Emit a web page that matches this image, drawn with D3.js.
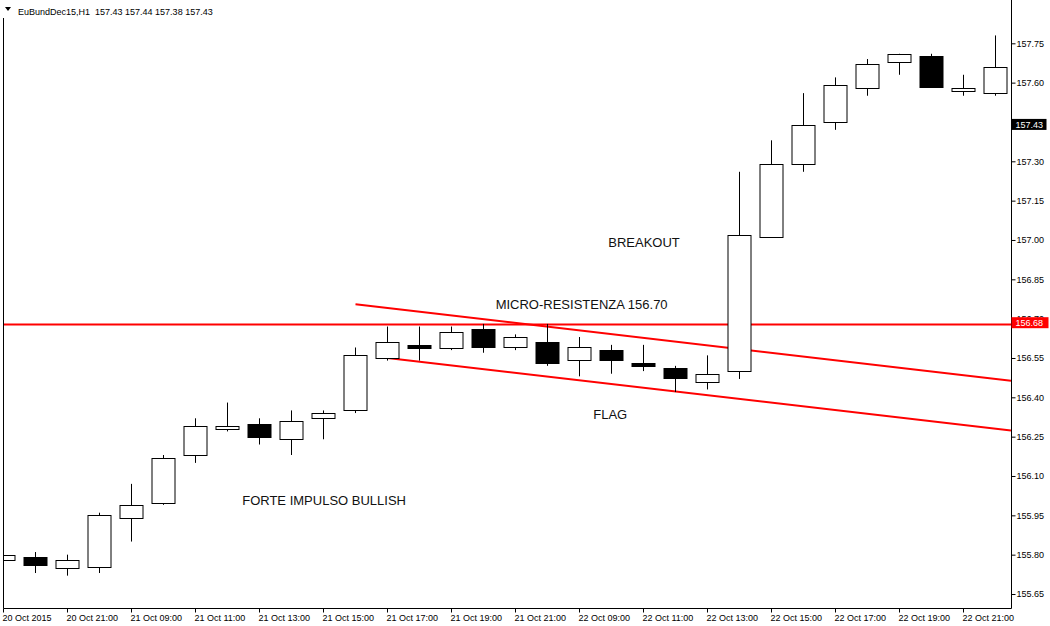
<!DOCTYPE html>
<html lang="it">
<head>
    <title>EuBundDec15,H1</title>
    <script src="https://d3js.org/d3.v7.min.js" charset="utf-8"></script>
    <style type="text/css">
        body
        {
            margin: 0;
            background-color: white;
        }
        svg
        {
            display: block;
            background-color: white;
            font-family: "Liberation Sans", Arial, sans-serif;
        }
        .axis text
        {
            font-size: 9px;
            fill: black;
        }
        .axis line
        {
            stroke: black;
        }
        .note
        {
            font-size: 13px;
            fill: #111;
        }
    </style>
</head>
<body>
    <div id="chart_div"></div>
    <script>
    "use strict";

    var symbol_text = "EuBundDec15,H1  157.43 157.44 157.38 157.43";

    var times = ["20 Oct 19:00", "20 Oct 20:00", "20 Oct 21:00", "21 Oct 08:00", "21 Oct 09:00", "21 Oct 10:00",
        "21 Oct 11:00", "21 Oct 12:00", "21 Oct 13:00", "21 Oct 14:00", "21 Oct 15:00", "21 Oct 16:00",
        "21 Oct 17:00", "21 Oct 18:00", "21 Oct 19:00", "21 Oct 20:00", "21 Oct 21:00", "22 Oct 08:00",
        "22 Oct 09:00", "22 Oct 10:00", "22 Oct 11:00", "22 Oct 12:00", "22 Oct 13:00", "22 Oct 14:00",
        "22 Oct 15:00", "22 Oct 16:00", "22 Oct 17:00", "22 Oct 18:00", "22 Oct 19:00", "22 Oct 20:00",
        "22 Oct 21:00", "22 Oct 22:00"];

    var open = [155.78, 155.79, 155.75, 155.75, 155.94, 156.00, 156.18, 156.28, 156.30, 156.24, 156.32,
        156.35, 156.55, 156.60, 156.59, 156.66, 156.59, 156.61, 156.54, 156.58, 156.53, 156.51, 156.46,
        156.50, 157.01, 157.29, 157.45, 157.58, 157.68, 157.70, 157.57, 157.56];
    var high = [155.81, 155.81, 155.80, 155.96, 156.07, 156.18, 156.32, 156.38, 156.32, 156.35, 156.35,
        156.59, 156.67, 156.67, 156.67, 156.68, 156.64, 156.68, 156.63, 156.60, 156.60, 156.52, 156.56,
        157.26, 157.38, 157.56, 157.62, 157.69, 157.71, 157.71, 157.63, 157.78];
    var low = [155.74, 155.73, 155.72, 155.73, 155.85, 155.99, 156.15, 156.27, 156.22, 156.18, 156.24,
        156.34, 156.54, 156.54, 156.58, 156.57, 156.58, 156.52, 156.48, 156.49, 156.50, 156.42, 156.43,
        156.47, 157.01, 157.26, 157.42, 157.55, 157.63, 157.58, 157.55, 157.55];
    var close = [155.80, 155.76, 155.78, 155.95, 155.99, 156.17, 156.29, 156.29, 156.25, 156.31, 156.34,
        156.56, 156.61, 156.59, 156.65, 156.59, 156.63, 156.53, 156.59, 156.54, 156.52, 156.47, 156.49,
        157.02, 157.29, 157.44, 157.59, 157.67, 157.71, 157.58, 157.58, 157.66];

    var x_tick_labels = ["20 Oct 2015", "20 Oct 21:00", "21 Oct 09:00", "21 Oct 11:00", "21 Oct 13:00",
        "21 Oct 15:00", "21 Oct 17:00", "21 Oct 19:00", "21 Oct 21:00", "22 Oct 09:00", "22 Oct 11:00",
        "22 Oct 13:00", "22 Oct 15:00", "22 Oct 17:00", "22 Oct 19:00", "22 Oct 21:00"];
    var y_ticks = [155.65, 155.80, 155.95, 156.10, 156.25, 156.40, 156.55, 156.70, 156.85, 157.00,
        157.15, 157.30, 157.45, 157.60, 157.75];

    // horizontal level and the two flag lines (bar index, price)
    var resistance_level = 156.68;
    var last_price = 157.43;
    var flag_upper = [[11, 156.755], [31, 156.47]];
    var flag_lower = [[12, 156.55], [31, 156.28]];

    var note_texts = ["FORTE IMPULSO BULLISH", "MICRO-RESISTENZA 156.70", "BREAKOUT", "FLAG"];
    var note_bars = [7.46, 15.38, 18.9, 18.43];
    var note_prices = [155.989, 156.737, 156.972, 156.317];

    var svg_width = 1050;
    var svg_height = 626;
    var left = 3;
    var right = 1011;
    var bottom = 608;

    var candles = times.map(function(t, i)
    {
        return {t: t, i: i, o: open[i], h: high[i], l: low[i], c: close[i]};
    });

    var x = d3.scaleBand()
        .domain(times)
        .range([-12.5, 1011.5])
        .paddingInner(0.25)
        .paddingOuter(0.125);
    var bw = x.bandwidth();
    var x_idx = d3.scaleLinear()
        .domain([0, times.length - 1])
        .range([x(times[0]) + bw / 2, x(times[times.length - 1]) + bw / 2]);

    var y = d3.scaleLinear()
        .domain([155.65, 157.75])
        .range([594, 43.3]);

    var svg = d3.select("#chart_div")
        .append("svg")
        .attr("width", svg_width)
        .attr("height", svg_height);

    svg.append("clipPath")
        .attr("id", "plot_clip")
        .append("rect")
        .attr("x", left)
        .attr("y", 0)
        .attr("width", right - left)
        .attr("height", bottom);

    var plot = svg.append("g").attr("clip-path", "url(#plot_clip)");

    // resistance line
    plot.append("line")
        .attr("x1", left)
        .attr("x2", right)
        .attr("y1", Math.round(y(resistance_level)) + 0.5)
        .attr("y2", Math.round(y(resistance_level)) + 0.5)
        .attr("stroke", "#ff0000")
        .attr("stroke-width", 2);

    // flag trend lines, extended to the right edge
    [flag_upper, flag_lower].forEach(function(pts)
    {
        var x1 = x_idx(pts[0][0]), y1 = y(pts[0][1]);
        var x2 = x_idx(pts[1][0]), y2 = y(pts[1][1]);
        var slope = (y2 - y1) / (x2 - x1);
        plot.append("line")
            .attr("x1", x1)
            .attr("y1", y1)
            .attr("x2", right)
            .attr("y2", y1 + slope * (right - x1))
            .attr("stroke", "#ff0000")
            .attr("stroke-width", 2);
    });

    // wicks
    plot.selectAll("line.wick")
        .data(candles)
        .enter()
        .append("line")
        .attr("class", "wick")
        .attr("x1", function(d) { return x(d.t) + bw / 2; })
        .attr("x2", function(d) { return x(d.t) + bw / 2; })
        .attr("y1", function(d) { return y(d.h); })
        .attr("y2", function(d) { return y(d.l); })
        .attr("stroke", "black")
        .attr("stroke-width", 1);

    // bodies
    plot.selectAll("rect.body")
        .data(candles)
        .enter()
        .append("rect")
        .attr("class", "body")
        .attr("x", function(d) { return x(d.t) + 0.5; })
        .attr("y", function(d) { return Math.round(y(Math.max(d.o, d.c))) + 0.5; })
        .attr("width", bw - 1)
        .attr("height", function(d) { return Math.max(1, Math.round(Math.abs(y(d.o) - y(d.c)))); })
        .attr("fill", function(d) { return d.c >= d.o ? "white" : "black"; })
        .attr("stroke", "black")
        .attr("stroke-width", 1);

    // text notes
    plot.selectAll("text.note")
        .data(note_texts)
        .enter()
        .append("text")
        .attr("class", "note")
        .attr("x", function(d, i) { return x_idx(note_bars[i]); })
        .attr("y", function(d, i) { return y(note_prices[i]); })
        .text(function(d) { return d; });

    // x axis
    var x_axis = d3.axisBottom(x)
        .tickValues(times.filter(function(d, i) { return i % 2 === 0; }))
        .tickFormat(function(d, i) { return x_tick_labels[i]; })
        .tickSize(4);
    var gx = svg.append("g")
        .attr("class", "axis")
        .attr("transform", "translate(0," + (bottom + 0.5) + ")")
        .call(x_axis);
    gx.select(".domain").remove();
    gx.selectAll("text")
        .attr("y", 12.5)
        .attr("dy", 0)
        .attr("x", -1)
        .style("text-anchor", "start");

    // y axis
    var y_axis = d3.axisRight(y)
        .tickValues(y_ticks)
        .tickFormat(d3.format(".2f"))
        .tickSize(4)
        .tickPadding(1);
    var gy = svg.append("g")
        .attr("class", "axis")
        .attr("transform", "translate(" + (right + 0.5) + ",0)")
        .call(y_axis);
    gy.select(".domain").remove();

    // frame
    svg.append("path")
        .attr("d", "M" + (left + 0.5) + ",18 V" + (bottom + 0.5) + " H" + (right + 0.5) + " V0")
        .attr("fill", "none")
        .attr("stroke", "black")
        .attr("stroke-width", 1);

    // price labels on the right scale
    function price_label(price, fill, dy, w)
    {
        var g = svg.append("g")
            .attr("transform", "translate(" + (right + 0.5) + "," + (y(price) + dy) + ")");
        g.append("rect")
            .attr("x", 0)
            .attr("y", -5.5)
            .attr("width", w)
            .attr("height", 11)
            .attr("fill", fill);
        g.append("text")
            .attr("x", 4)
            .attr("y", 3.3)
            .attr("fill", "white")
            .style("font-size", "9px")
            .text(d3.format(".2f")(price));
    }
    price_label(resistance_level, "#ff0000", -1.2, 37);
    price_label(last_price, "black", -2.8, 35);

    // header
    svg.append("path")
        .attr("d", "M5,7 L11,7 L8,11 Z")
        .attr("fill", "black");
    svg.append("text")
        .attr("x", 18)
        .attr("y", 14.5)
        .style("font-size", "9px")
        .attr("fill", "black")
        .text(symbol_text)
        .attr("xml:space", "preserve")
        .style("white-space", "pre");
    </script>
</body>
</html>
